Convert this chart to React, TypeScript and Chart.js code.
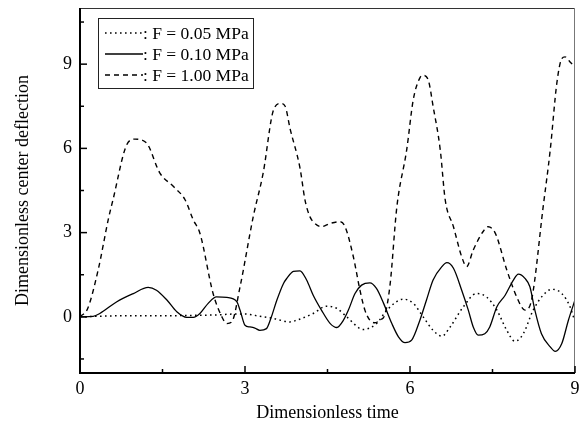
import React, { useEffect, useRef } from "react";
import { Chart, registerables } from "chart.js";

Chart.register(...registerables);

const xTickValues = [0, 3, 6, 9];
const yTickValues = [0, 3, 6, 9];
const xMinorTicks = [1.5, 4.5, 7.5];
const yMinorTicks = [-1.5, 1.5, 4.5, 7.5, 10.5];

const seriesLabels = [": F = 0.05 MPa", ": F = 0.10 MPa", ": F = 1.00 MPa"];

const tLow = [0, 0.5, 1.0, 1.5, 2.0, 2.5, 2.8, 3.0, 3.27, 3.52, 3.82, 3.94, 4.24, 4.48, 4.67, 4.85, 5.15, 5.39, 5.58, 5.88, 6.06, 6.24, 6.42, 6.58, 6.73, 6.97, 7.21, 7.39, 7.58, 7.76, 7.91, 8.06, 8.24, 8.42, 8.58, 8.76, 8.91, 9.0];
const vLow = [0, 0.03, 0.04, 0.04, 0.05, 0.07, 0.1, 0.1, 0.02, -0.06, -0.18, -0.12, 0.12, 0.38, 0.3, 0, -0.45, -0.24, 0.24, 0.63, 0.48, 0, -0.48, -0.69, -0.36, 0.36, 0.83, 0.71, 0.24, -0.48, -0.87, -0.6, 0.24, 0.77, 0.98, 0.83, 0.36, -0.18];

const tMid = [0, 0.24, 0.36, 0.67, 0.97, 1.24, 1.39, 1.58, 1.76, 1.94, 2.06, 2.18, 2.33, 2.48, 2.67, 2.85, 2.91, 3.0, 3.09, 3.18, 3.27, 3.39, 3.48, 3.58, 3.7, 3.76, 3.88, 4.0, 4.12, 4.24, 4.39, 4.55, 4.67, 4.79, 4.88, 5.0, 5.12, 5.27, 5.39, 5.52, 5.67, 5.79, 5.91, 6.03, 6.18, 6.3, 6.42, 6.58, 6.67, 6.79, 6.94, 7.06, 7.15, 7.24, 7.36, 7.45, 7.58, 7.73, 7.88, 7.97, 8.09, 8.18, 8.27, 8.39, 8.55, 8.64, 8.76, 8.88, 9.0];
const vMid = [0, 0.02, 0.12, 0.54, 0.83, 1.05, 0.95, 0.6, 0.18, -0.02, -0.02, 0.12, 0.48, 0.71, 0.69, 0.54, 0.24, -0.3, -0.36, -0.4, -0.48, -0.42, 0, 0.6, 1.19, 1.37, 1.62, 1.64, 1.31, 0.77, 0.24, -0.24, -0.38, -0.12, 0.24, 0.83, 1.13, 1.21, 1.01, 0.48, -0.24, -0.71, -0.92, -0.83, -0.12, 0.6, 1.31, 1.79, 1.93, 1.73, 0.95, 0.24, -0.36, -0.65, -0.6, -0.36, 0.36, 0.77, 1.31, 1.52, 1.37, 1.07, 0.24, -0.6, -1.07, -1.23, -0.95, -0.12, 0.6];

const tHigh = [0, 0.14, 0.33, 0.52, 0.6, 0.85, 1.0, 1.21, 1.45, 1.7, 1.91, 2.06, 2.18, 2.42, 2.58, 2.67, 2.76, 2.91, 3.15, 3.33, 3.52, 3.65, 3.73, 3.82, 4.0, 4.09, 4.18, 4.27, 4.39, 4.55, 4.73, 4.82, 4.97, 5.09, 5.18, 5.27, 5.36, 5.45, 5.55, 5.64, 5.76, 5.94, 6.06, 6.18, 6.24, 6.33, 6.42, 6.55, 6.64, 6.79, 6.94, 7.03, 7.15, 7.33, 7.42, 7.55, 7.76, 7.94, 8.09, 8.21, 8.42, 8.55, 8.67, 8.76, 8.82, 8.91, 9.0];
const vHigh = [0, 0.3, 1.67, 3.52, 4.17, 6.13, 6.33, 6.19, 5.13, 4.64, 4.17, 3.45, 2.98, 0.83, 0, -0.24, -0.18, 1.07, 3.57, 5.12, 7.38, 7.6, 7.5, 6.7, 5.3, 4.17, 3.57, 3.33, 3.21, 3.33, 3.39, 3.21, 2.14, 0.95, 0.24, -0.12, -0.21, -0.12, 0.12, 1.19, 3.9, 5.95, 7.74, 8.51, 8.6, 8.45, 7.5, 5.95, 4.17, 3.21, 2.14, 1.79, 2.38, 3.04, 3.21, 2.98, 1.67, 0.71, 0.24, 0.6, 3.9, 5.95, 8.33, 9.2, 9.26, 9.08, 8.9];

const FONT = "'Liberation Serif', 'Times New Roman', serif";

const toPoints = (ts: number[], vs: number[]) => ts.map((t, i) => ({ x: t, y: vs[i] }));

const dashes: number[][] = [[1.6, 3.4], [], [5, 4]];
const widths = [1.5, 1.3, 1.4];

const framePlugin = {
  id: "frame",
  afterDatasetsDraw(chart: any) {
    const { ctx, chartArea, scales } = chart;
    const { left, right, top, bottom } = chartArea;
    const xs = scales.x;
    const ys = scales.y;
    ctx.save();
    ctx.lineWidth = 1;
    ctx.strokeStyle = "#333";
    ctx.beginPath();
    ctx.moveTo(left, top + 0.5);
    ctx.lineTo(right, top + 0.5);
    ctx.stroke();
    ctx.strokeStyle = "#777";
    ctx.beginPath();
    ctx.moveTo(right - 0.5, top);
    ctx.lineTo(right - 0.5, bottom);
    ctx.stroke();
    ctx.strokeStyle = "#000";
    ctx.lineWidth = 2;
    ctx.beginPath();
    ctx.moveTo(left, top);
    ctx.lineTo(left, bottom);
    ctx.lineTo(right, bottom);
    ctx.stroke();
    ctx.lineWidth = 1.5;
    const tick = (x1: number, y1: number, x2: number, y2: number) => {
      ctx.beginPath();
      ctx.moveTo(x1, y1);
      ctx.lineTo(x2, y2);
      ctx.stroke();
    };
    xTickValues.forEach((v) => {
      const px = xs.getPixelForValue(v);
      tick(px, bottom, px, bottom - 7);
    });
    xMinorTicks.forEach((v) => {
      const px = xs.getPixelForValue(v);
      tick(px, bottom, px, bottom - 4);
    });
    yTickValues.forEach((v) => {
      const py = ys.getPixelForValue(v);
      tick(left, py, left + 7, py);
    });
    yMinorTicks.forEach((v) => {
      const py = ys.getPixelForValue(v);
      tick(left, py, left + 4, py);
    });
    ctx.restore();
  },
  afterDraw(chart: any) {
    const { ctx, chartArea } = chart;
    const bx = chartArea.left + 18;
    const by = chartArea.top + 10;
    const bw = 155;
    const bh = 70;
    ctx.save();
    ctx.fillStyle = "#fff";
    ctx.fillRect(bx, by, bw, bh);
    ctx.strokeStyle = "#222";
    ctx.lineWidth = 1;
    ctx.strokeRect(bx + 0.5, by + 0.5, bw, bh);
    ctx.font = `17.5px ${FONT}`;
    ctx.textBaseline = "middle";
    ctx.fillStyle = "#000";
    chart.data.datasets.forEach((ds: any, i: number) => {
      const y = by + 15 + i * 21;
      ctx.setLineDash(ds.borderDash || []);
      ctx.lineWidth = ds.borderWidth;
      ctx.strokeStyle = "#000";
      ctx.beginPath();
      ctx.moveTo(bx + 7, y);
      ctx.lineTo(bx + 45, y);
      ctx.stroke();
      ctx.setLineDash([]);
      ctx.fillText(ds.label, bx + 45, y + 1);
    });
    ctx.restore();
  },
};

export default function App() {
  const canvasRef = useRef<HTMLCanvasElement | null>(null);

  useEffect(() => {
    document.body.style.margin = "0";
    const canvas = canvasRef.current;
    if (!canvas) return;
    const datasets = [
      { label: seriesLabels[0], data: toPoints(tLow, vLow), borderDash: dashes[0], borderWidth: widths[0] },
      { label: seriesLabels[1], data: toPoints(tMid, vMid), borderDash: dashes[1], borderWidth: widths[1] },
      { label: seriesLabels[2], data: toPoints(tHigh, vHigh), borderDash: dashes[2], borderWidth: widths[2] },
    ].map((d) => ({
      ...d,
      borderColor: "#000",
      pointRadius: 0,
      fill: false,
      cubicInterpolationMode: "monotone" as const,
    }));

    const chart = new Chart(canvas, {
      type: "line",
      data: { datasets },
      plugins: [framePlugin],
      options: {
        animation: false,
        responsive: true,
        maintainAspectRatio: false,
        parsing: false as any,
        layout: { padding: { top: 8, right: 11, left: 0, bottom: 0 } },
        plugins: { legend: { display: false }, tooltip: { enabled: false } },
        scales: {
          x: {
            type: "linear",
            min: 0,
            max: 9,
            afterBuildTicks: (s: any) => {
              s.ticks = xTickValues.map((v) => ({ value: v }));
            },
            afterFit: (s: any) => {
              s.height = 56;
              s.paddingLeft = 0;
              s.paddingRight = 0;
            },
            grid: { display: false, drawTicks: false },
            border: { display: false },
            ticks: {
              padding: 5,
              maxRotation: 0,
              color: "#000",
              font: { family: FONT, size: 18 },
            },
            title: {
              display: true,
              text: "Dimensionless time",
              color: "#000",
              font: { family: FONT, size: 18 },
              padding: { top: 0, bottom: 5 },
            },
          },
          y: {
            type: "linear",
            min: -2,
            max: 11,
            afterBuildTicks: (s: any) => {
              s.ticks = yTickValues.map((v) => ({ value: v }));
            },
            afterFit: (s: any) => {
              s.width = 80;
              s.paddingTop = 0;
              s.paddingBottom = 0;
            },
            grid: { display: false, drawTicks: false },
            border: { display: false },
            ticks: {
              padding: 8,
              color: "#000",
              font: { family: FONT, size: 18 },
            },
            title: {
              display: true,
              text: "Dimensionless center deflection",
              color: "#000",
              font: { family: FONT, size: 18 },
              padding: { top: 12, bottom: 0 },
            },
          },
        },
      },
    });
    return () => chart.destroy();
  }, []);

  return (
    <div style={{ position: "fixed", left: 0, top: 0, width: 586, height: 429, background: "#fff" }}>
      <canvas ref={canvasRef} />
    </div>
  );
}
